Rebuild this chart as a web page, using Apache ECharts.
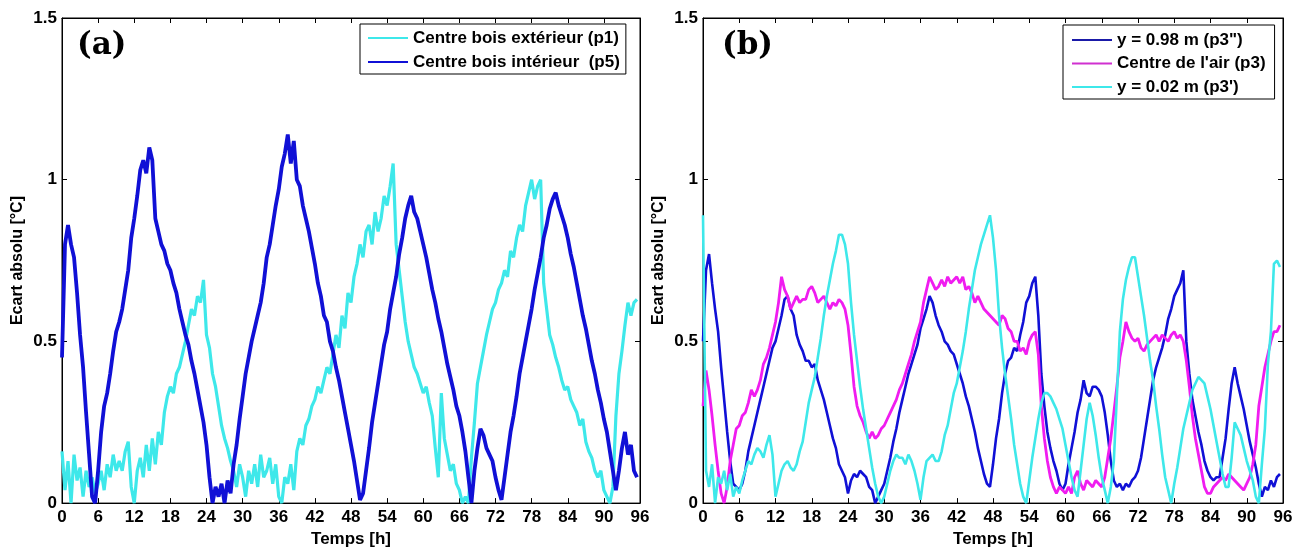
<!DOCTYPE html>
<html>
<head>
<meta charset="utf-8">
<script src="https://cdn.jsdelivr.net/npm/echarts@6/dist/echarts.min.js"></script>
<style>
html,body{margin:0;padding:0;background:#fff;}
#chart{width:1305px;height:553px;}
</style>
</head>
<body>
<div id="chart"></div>
<script>
// sampling step in hours (values below are read every 0.5 h, from 0 h to 95.5 h)
const STEP = 0.5;
const xTicks = [0, 6, 12, 18, 24, 30, 36, 42, 48, 54, 60, 66, 72, 78, 84, 90, 96];
const yTicks = [0, 0.5, 1, 1.5];

const namesA = ['Centre bois extérieur (p1)', 'Centre bois intérieur  (p5)'];
const namesB = ['y = 0.98 m (p3")', "Centre de l'air (p3)", "y = 0.02 m (p3')"];

// Panel (a) - Centre bois extérieur (p1)
const p1 = [
0.16,0.04,0.13,0.00,0.15,0.07,0.11,0.02,0.10,0.05,0.08,0.03,
0.06,0.10,0.04,0.12,0.08,0.15,0.10,0.13,0.10,0.16,0.19,0.05,
0.00,0.10,0.14,0.08,0.18,0.10,0.20,0.12,0.22,0.18,0.28,0.33,
0.36,0.34,0.40,0.42,0.46,0.50,0.55,0.60,0.58,0.64,0.62,0.69,
0.52,0.48,0.40,0.36,0.30,0.24,0.20,0.17,0.13,0.10,0.05,0.12,
0.08,0.02,0.10,0.06,0.12,0.05,0.15,0.08,0.10,0.14,0.06,0.12,
0.02,0.00,0.08,0.06,0.12,0.04,0.16,0.20,0.18,0.24,0.26,0.30,
0.32,0.36,0.34,0.38,0.42,0.40,0.46,0.52,0.48,0.58,0.54,0.65,
0.62,0.70,0.74,0.80,0.76,0.84,0.86,0.80,0.90,0.84,0.88,0.95,
0.92,0.98,1.05,0.80,0.72,0.64,0.56,0.50,0.46,0.42,0.40,0.37,
0.34,0.36,0.31,0.27,0.17,0.08,0.34,0.20,0.15,0.10,0.12,0.06,
0.04,0.00,0.02,0.00,0.14,0.25,0.37,0.42,0.47,0.52,0.56,0.60,
0.62,0.66,0.68,0.72,0.70,0.78,0.76,0.82,0.86,0.84,0.92,0.96,
1.00,0.94,0.98,1.00,0.68,0.60,0.52,0.49,0.45,0.42,0.38,0.35,
0.36,0.32,0.30,0.28,0.24,0.26,0.19,0.16,0.14,0.10,0.08,0.10,
0.04,0.02,0.00,0.05,0.27,0.40,0.47,0.55,0.62,0.58,0.62,0.63
];
// Panel (a) - Centre bois intérieur (p5)
const p5 = [
0.45,0.80,0.86,0.80,0.76,0.65,0.52,0.42,0.28,0.15,0.02,0.00,
0.10,0.22,0.30,0.34,0.40,0.47,0.53,0.56,0.60,0.66,0.72,0.82,
0.88,0.95,1.03,1.06,1.02,1.10,1.06,0.88,0.84,0.80,0.78,0.74,
0.72,0.68,0.65,0.60,0.56,0.52,0.49,0.44,0.40,0.35,0.30,0.25,
0.18,0.08,0.00,0.05,0.02,0.06,0.00,0.07,0.03,0.12,0.18,0.26,
0.33,0.40,0.45,0.50,0.54,0.58,0.62,0.68,0.76,0.80,0.86,0.92,
0.97,1.04,1.08,1.14,1.05,1.12,1.00,0.98,0.92,0.88,0.84,0.79,
0.74,0.68,0.64,0.58,0.56,0.50,0.47,0.42,0.38,0.33,0.28,0.23,
0.18,0.13,0.07,0.01,0.03,0.10,0.17,0.25,0.31,0.37,0.43,0.49,
0.53,0.60,0.65,0.70,0.77,0.82,0.88,0.92,0.95,0.90,0.88,0.84,
0.80,0.76,0.71,0.66,0.62,0.57,0.53,0.48,0.43,0.39,0.35,0.30,
0.27,0.22,0.16,0.08,0.00,0.10,0.17,0.23,0.21,0.17,0.15,0.13,
0.08,0.04,0.01,0.08,0.15,0.22,0.27,0.33,0.40,0.45,0.50,0.55,
0.60,0.66,0.71,0.76,0.82,0.86,0.91,0.94,0.96,0.92,0.89,0.86,
0.82,0.77,0.73,0.68,0.63,0.58,0.54,0.49,0.44,0.40,0.35,0.31,
0.26,0.22,0.16,0.10,0.04,0.10,0.17,0.22,0.15,0.18,0.10,0.08
];
// Panel (b) - y = 0.98 m (p3")
const p3top = [
0.50,0.72,0.77,0.68,0.60,0.53,0.42,0.32,0.22,0.13,0.06,0.05,
0.04,0.06,0.10,0.16,0.20,0.24,0.28,0.32,0.36,0.40,0.44,0.48,
0.50,0.54,0.58,0.63,0.64,0.60,0.58,0.52,0.49,0.47,0.44,0.44,
0.42,0.43,0.38,0.35,0.32,0.28,0.24,0.20,0.17,0.12,0.10,0.08,
0.03,0.07,0.09,0.08,0.10,0.09,0.08,0.05,0.04,0.00,0.02,0.04,
0.06,0.10,0.14,0.19,0.23,0.28,0.32,0.36,0.40,0.43,0.46,0.49,
0.54,0.57,0.60,0.64,0.62,0.58,0.55,0.53,0.50,0.49,0.47,0.46,
0.43,0.40,0.37,0.33,0.30,0.26,0.22,0.17,0.13,0.09,0.06,0.05,
0.12,0.20,0.26,0.34,0.40,0.44,0.45,0.48,0.47,0.52,0.56,0.62,
0.64,0.68,0.70,0.58,0.40,0.30,0.22,0.17,0.13,0.10,0.06,0.04,
0.06,0.12,0.17,0.22,0.28,0.32,0.38,0.34,0.33,0.36,0.36,0.35,
0.33,0.28,0.21,0.13,0.07,0.05,0.06,0.04,0.06,0.05,0.07,0.08,
0.10,0.14,0.20,0.26,0.32,0.38,0.42,0.45,0.48,0.52,0.57,0.60,
0.64,0.66,0.68,0.72,0.50,0.40,0.32,0.27,0.22,0.18,0.13,0.10,
0.08,0.07,0.08,0.08,0.14,0.20,0.29,0.37,0.42,0.37,0.33,0.29,
0.24,0.19,0.15,0.11,0.06,0.02,0.05,0.04,0.07,0.05,0.08,0.09
];
// Panel (b) - Centre de l'air (p3)
const p3mid = [
0.30,0.41,0.35,0.27,0.18,0.10,0.03,0.00,0.05,0.13,0.18,0.23,
0.24,0.27,0.28,0.31,0.35,0.33,0.35,0.38,0.43,0.45,0.48,0.52,
0.56,0.62,0.70,0.66,0.64,0.60,0.62,0.64,0.62,0.63,0.63,0.66,
0.67,0.65,0.62,0.63,0.64,0.62,0.60,0.62,0.61,0.63,0.62,0.60,
0.55,0.46,0.36,0.30,0.27,0.25,0.22,0.20,0.22,0.20,0.21,0.23,
0.24,0.26,0.28,0.30,0.32,0.35,0.37,0.40,0.43,0.46,0.50,0.53,
0.56,0.62,0.66,0.70,0.68,0.66,0.67,0.69,0.67,0.70,0.68,0.69,
0.70,0.68,0.70,0.66,0.67,0.65,0.62,0.64,0.62,0.60,0.59,0.58,
0.57,0.56,0.55,0.58,0.57,0.54,0.53,0.50,0.50,0.47,0.48,0.46,
0.50,0.52,0.53,0.46,0.30,0.20,0.13,0.08,0.05,0.03,0.05,0.04,
0.03,0.05,0.03,0.08,0.10,0.06,0.04,0.07,0.06,0.05,0.07,0.06,
0.05,0.08,0.14,0.20,0.28,0.36,0.45,0.50,0.56,0.53,0.51,0.50,
0.51,0.48,0.47,0.49,0.50,0.51,0.52,0.50,0.52,0.51,0.50,0.52,
0.53,0.51,0.52,0.50,0.44,0.36,0.27,0.20,0.15,0.10,0.05,0.03,
0.03,0.05,0.06,0.07,0.08,0.07,0.09,0.08,0.07,0.06,0.05,0.04,
0.06,0.08,0.12,0.18,0.30,0.36,0.42,0.46,0.50,0.53,0.53,0.55
];
// Panel (b) - y = 0.02 m (p3')
const p3low = [
0.89,0.10,0.05,0.12,0.00,0.08,0.06,0.10,0.04,0.09,0.02,0.05,
0.03,0.07,0.10,0.13,0.12,0.15,0.17,0.16,0.14,0.18,0.21,0.15,
0.02,0.06,0.10,0.12,0.13,0.11,0.10,0.12,0.16,0.19,0.25,0.31,
0.35,0.39,0.45,0.51,0.58,0.64,0.69,0.74,0.78,0.83,0.83,0.80,
0.74,0.62,0.52,0.44,0.36,0.29,0.23,0.17,0.11,0.06,0.02,0.00,
0.02,0.06,0.10,0.13,0.15,0.14,0.14,0.12,0.15,0.13,0.10,0.06,
0.01,0.08,0.13,0.14,0.15,0.13,0.13,0.16,0.21,0.24,0.29,0.34,
0.37,0.42,0.47,0.53,0.60,0.66,0.72,0.76,0.80,0.83,0.86,0.89,
0.82,0.72,0.58,0.48,0.40,0.33,0.26,0.18,0.12,0.06,0.02,0.00,
0.07,0.14,0.20,0.26,0.31,0.34,0.34,0.33,0.31,0.29,0.26,0.23,
0.18,0.13,0.08,0.04,0.02,0.10,0.18,0.26,0.31,0.27,0.21,0.14,
0.08,0.04,0.00,0.05,0.13,0.33,0.53,0.63,0.69,0.73,0.76,0.76,
0.70,0.64,0.58,0.51,0.44,0.38,0.30,0.23,0.15,0.08,0.04,0.00,
0.06,0.11,0.17,0.23,0.27,0.31,0.35,0.37,0.39,0.38,0.37,0.33,
0.29,0.24,0.19,0.14,0.09,0.05,0.05,0.14,0.25,0.23,0.21,0.17,
0.13,0.10,0.07,0.02,0.00,0.12,0.23,0.43,0.53,0.74,0.75,0.73
];

const toPairs = arr => arr.map((v, i) => [i * STEP, v]);

const FONT = '"Liberation Sans", Arial, sans-serif';
const BLUE = '#1010d6';
const CYAN = '#3ee8ea';
const MAG = '#f01cf0';

function xAxes(grid) {
  const base = {
    type: 'value', gridIndex: grid, min: xTicks[0], max: xTicks[xTicks.length - 1],
    interval: xTicks[1] - xTicks[0], splitLine: {show: false},
    axisLine: {show: true, onZero: false, lineStyle: {color: '#000', width: 1}},
    axisTick: {show: true, inside: true, length: 5, lineStyle: {color: '#000'}}
  };
  return [
    Object.assign({}, base, {
      position: 'bottom', name: 'Temps [h]', nameLocation: 'middle', nameGap: 27,
      nameTextStyle: {fontFamily: FONT, fontWeight: 'bold', fontSize: 17, color: '#000'},
      axisLabel: {show: true, margin: 6, fontFamily: FONT, fontWeight: 'bold', fontSize: 17, color: '#000',
        showMinLabel: true, showMaxLabel: true}
    }),
    Object.assign({}, base, {position: 'top', axisLabel: {show: false}})
  ];
}
function yAxes(grid) {
  const base = {
    type: 'value', gridIndex: grid, min: yTicks[0], max: yTicks[yTicks.length - 1],
    interval: yTicks[1] - yTicks[0], splitLine: {show: false},
    axisLine: {show: true, onZero: false, lineStyle: {color: '#000', width: 1}},
    axisTick: {show: true, inside: true, length: 5, lineStyle: {color: '#000'}}
  };
  return [
    Object.assign({}, base, {
      position: 'left', name: 'Ecart absolu [°C]', nameLocation: 'middle', nameGap: 36,
      nameTextStyle: {fontFamily: FONT, fontWeight: 'bold', fontSize: 16, color: '#000'},
      axisLabel: {show: true, margin: 5, fontFamily: FONT, fontWeight: 'bold', fontSize: 17, color: '#000',
        showMinLabel: true, showMaxLabel: true}
    }),
    Object.assign({}, base, {position: 'right', axisLabel: {show: false}})
  ];
}

const legendText = {fontFamily: FONT, fontWeight: 'bold', fontSize: 17, color: '#000', lineHeight: 20};

const option = {
  backgroundColor: '#fff',
  animation: false,
  grid: [
    {left: 62, right: 665, top: 18, bottom: 45, show: true, borderColor: '#000', borderWidth: 1, backgroundColor: '#fff'},
    {left: 703, right: 22, top: 18, bottom: 45, show: true, borderColor: '#000', borderWidth: 1, backgroundColor: '#fff'}
  ],
  xAxis: xAxes(0).concat(xAxes(1)),
  yAxis: yAxes(0).concat(yAxes(1)),
  legend: [
    {data: namesA, orient: 'vertical', left: 360, top: 24, icon: 'rect', itemWidth: 40, itemHeight: 2,
     itemGap: 4, padding: [4, 6, 2, 8], borderColor: '#000', borderWidth: 1, backgroundColor: '#fff',
     textStyle: legendText, selectedMode: false},
    {data: namesB, orient: 'vertical', left: 1063, top: 25, icon: 'rect', itemWidth: 40, itemHeight: 2,
     itemGap: 3.5, padding: [5, 9, 2, 9], borderColor: '#000', borderWidth: 1, backgroundColor: '#fff',
     textStyle: legendText, selectedMode: false}
  ],
  graphic: [
    {type: 'text', left: 77, top: 30, style: {text: '(a)', font: 'bold 31px "DejaVu Serif", serif', fill: '#000'}},
    {type: 'text', left: 722, top: 30, style: {text: '(b)', font: 'bold 31px "DejaVu Serif", serif', fill: '#000'}}
  ],
  series: [
    {name: namesA[0], type: 'line', xAxisIndex: 0, yAxisIndex: 0, data: toPairs(p1), symbol: 'none',
     lineStyle: {color: CYAN, width: 3.2}, itemStyle: {color: CYAN}, z: 2},
    {name: namesA[1], type: 'line', xAxisIndex: 0, yAxisIndex: 0, data: toPairs(p5), symbol: 'none',
     lineStyle: {color: BLUE, width: 3.8}, itemStyle: {color: BLUE}, z: 3},
    {name: namesB[0], type: 'line', xAxisIndex: 2, yAxisIndex: 2, data: toPairs(p3top), symbol: 'none',
     lineStyle: {color: BLUE, width: 2.6}, itemStyle: {color: '#1a1aa8'}, z: 2},
    {name: namesB[1], type: 'line', xAxisIndex: 2, yAxisIndex: 2, data: toPairs(p3mid), symbol: 'none',
     lineStyle: {color: MAG, width: 2.8}, itemStyle: {color: '#d030d0'}, z: 3},
    {name: namesB[2], type: 'line', xAxisIndex: 2, yAxisIndex: 2, data: toPairs(p3low), symbol: 'none',
     lineStyle: {color: CYAN, width: 2.6}, itemStyle: {color: CYAN}, z: 4}
  ]
};

const chart = echarts.init(document.getElementById('chart'), null, {renderer: 'canvas'});
chart.setOption(option);
</script>
</body>
</html>
